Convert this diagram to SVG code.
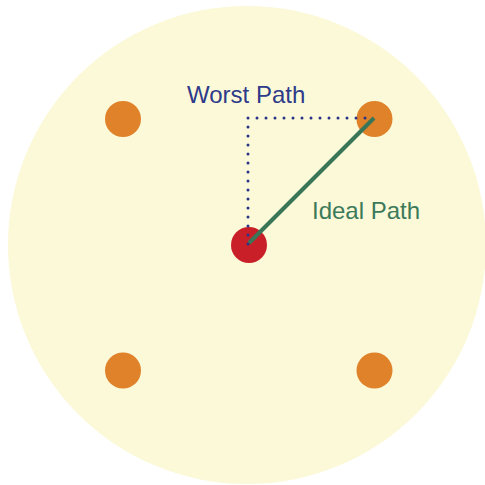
<svg xmlns="http://www.w3.org/2000/svg" width="485" height="485" viewBox="0 0 485 485">
<style>
.pt{fill:#e0822a}
.lbl{font-family:"Liberation Sans",Arial,sans-serif;font-size:24px}
</style>
<rect width="485" height="485" fill="#ffffff"/>
<g id="field"><circle cx="247" cy="245" r="239" fill="#fbf9d8"/></g>
<g id="n-tl"><circle class="pt" cx="123" cy="119" r="18"/></g>
<g id="n-tr"><circle class="pt" cx="374.5" cy="119" r="18"/></g>
<g id="n-bl"><circle class="pt" cx="123" cy="370.5" r="18"/></g>
<g id="n-br"><circle class="pt" cx="374.5" cy="370.5" r="18"/></g>
<g id="n-center"><circle cx="249" cy="245" r="18" fill="#c91f28"/></g>
<g id="connectors">
<path d="M248,244 V118 H374" fill="none" stroke="#2b3588" stroke-width="3" stroke-linecap="round" stroke-dasharray="0 9"/>
<line x1="249" y1="243" x2="374" y2="118" stroke="#3a7558" stroke-width="4"/>
</g>
<g id="label-worst"><text class="lbl" x="187" y="103" fill="#2e3a8a">Worst Path</text></g>
<g id="label-ideal"><text class="lbl" x="312" y="219" fill="#3b7a5a">Ideal Path</text></g>
</svg>
